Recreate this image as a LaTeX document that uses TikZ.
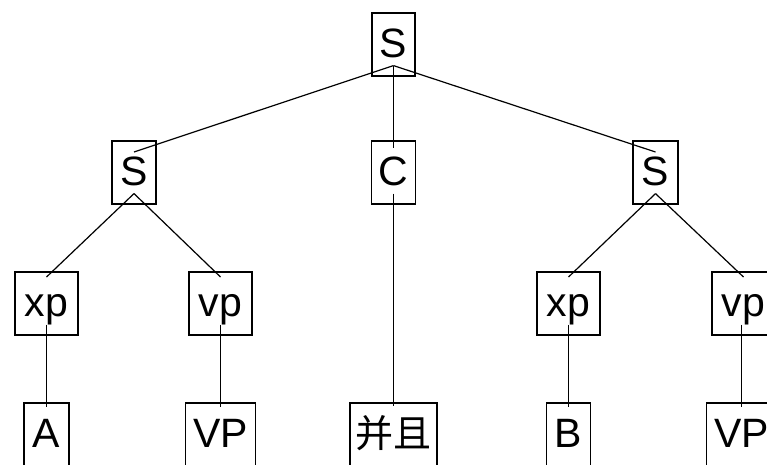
\documentclass[tikz,border=0pt]{standalone}
\usepackage{fontspec}
\setmainfont{Liberation Sans}
\newfontfamily\cjk{Noto Sans CJK SC}
\tikzset{
  box/.style={draw, line width=1.6pt, inner sep=0pt, text height=45pt, text depth=18pt,
    font=\fontsize{41}{41}\selectfont},
  edge/.style={line width=1.2pt}
}
\begin{document}
\begin{tikzpicture}[x=1pt,y=-1pt]
\useasboundingbox (0,0) rectangle (767,465);
\clip (0,0) rectangle (767,465);
\fill[white] (0,0) rectangle (767,465);
% level 0
\node[box, minimum width=43pt, anchor=north] (S0) at (393.5,12) {S};
% level 1
\node[box, minimum width=44pt, anchor=north] (S1) at (134,140) {S};
\node[box, minimum width=44pt, anchor=north] (C) at (393.5,140) {C};
\node[box, minimum width=45pt, anchor=north] (S2) at (655.5,140) {S};
% level 2
\node[box, minimum width=63pt, anchor=north] (xp1) at (46.5,271) {xp};
\node[box, minimum width=63pt, anchor=north] (vp1) at (220.5,271) {vp};
\node[box, minimum width=63pt, anchor=north] (xp2) at (568.5,271) {xp};
\node[box, minimum width=63pt, anchor=north] (vp2) at (743.5,271) {vp};
% level 3
\node[box, minimum width=45pt, anchor=north] (A) at (46.5,402) {A};
\node[box, minimum width=70pt, anchor=north] (VP1) at (220.5,402) {VP};
\node[box, minimum width=87pt, anchor=north, font=\fontsize{38}{38}\cjk] (BQ) at (393.5,402) {并且};
\node[box, minimum width=44pt, anchor=north] (B) at (568.5,402) {B};
\node[box, minimum width=70pt, anchor=north] (VP2) at (741.5,402) {VP};
% edges
\draw[edge] ([yshift=11pt]S0.south) -- ([yshift=-12pt]S1.north);
\draw[edge] ([yshift=11pt]S0.south) -- ([yshift=-8pt]C.north);
\draw[edge] ([yshift=11pt]S0.south) -- ([yshift=-12pt]S2.north);
\draw[edge] ([yshift=11pt]S1.south) -- ([yshift=-6pt]xp1.north);
\draw[edge] ([yshift=11pt]S1.south) -- ([yshift=-6pt]vp1.north);
\draw[edge] ([yshift=11pt]S2.south) -- ([yshift=-6pt]xp2.north);
\draw[edge] ([yshift=11pt]S2.south) -- ([yshift=-6pt]vp2.north);
\draw[edge] ([yshift=11pt]xp1.south -| A.north) -- ([yshift=-5pt]A.north);
\draw[edge] ([yshift=11pt]vp1.south -| VP1.north) -- ([yshift=-5pt]VP1.north);
\draw[edge] ([yshift=11pt]C.south -| BQ.north) -- ([yshift=-4pt]BQ.north);
\draw[edge] ([yshift=11pt]xp2.south -| B.north) -- ([yshift=-5pt]B.north);
\draw[edge] ([yshift=11pt]vp2.south -| VP2.north) -- ([yshift=-5pt]VP2.north);
\end{tikzpicture}
\end{document}
